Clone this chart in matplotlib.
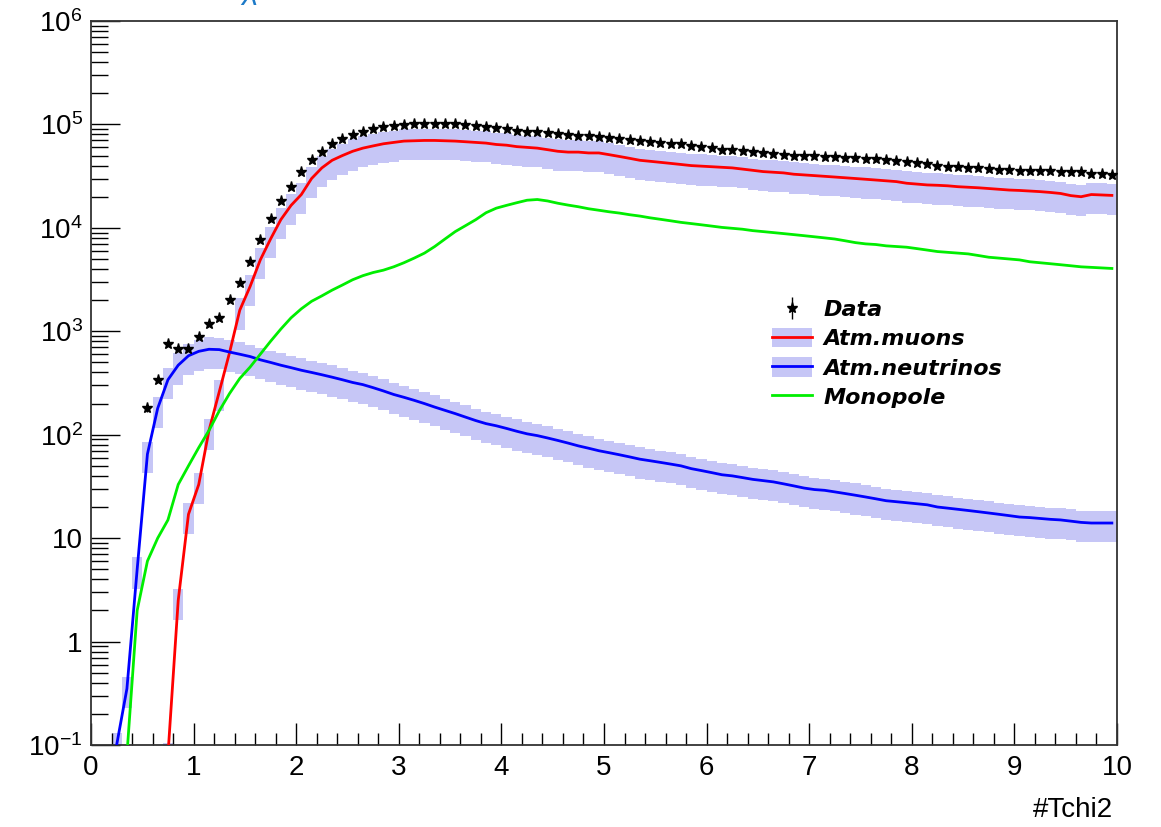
import numpy as np
import matplotlib
matplotlib.use("Agg")
import matplotlib.pyplot as plt
from matplotlib.patches import Patch
from matplotlib.lines import Line2D
from matplotlib.ticker import FixedLocator, FixedFormatter, LogLocator, NullFormatter, MultipleLocator

plt.rcParams['font.family'] = ['Liberation Sans', 'DejaVu Sans']
plt.rcParams['mathtext.fontset'] = 'custom'
plt.rcParams['mathtext.rm'] = 'Liberation Sans'
plt.rcParams['mathtext.it'] = 'Liberation Sans:italic'

nan = np.nan
# 100 bins of width 0.1 on #Tchi2 (0..10)
bin_edges = np.linspace(0, 10, 101)
bin_centers = 0.5 * (bin_edges[:-1] + bin_edges[1:])

data_counts = [
    nan, nan, nan, nan, nan, 180, 340, 750, 680, 680,
    890, 1170, 1340, 2000, 2950, 4700, 7600, 12200, 18200, 25000,
    34500, 45300, 54000, 64500, 72000, 79000, 85000, 91000, 94000, 96500,
    98000, 100000, 100000, 101000, 101000, 100000, 99000, 97000, 95000, 92000,
    90000, 87000, 85000, 84000, 83000, 81000, 79000, 78000, 77000, 76000,
    74000, 72000, 71000, 69000, 68000, 66000, 65000, 64000, 62000, 60000,
    59000, 57000, 56000, 55000, 54000, 53000, 52000, 51000, 50000, 49500,
    49000, 48500, 48000, 47500, 47000, 46500, 46000, 45000, 44000, 43000,
    42000, 41000, 40000, 39000, 38500, 38000, 37500, 37000, 36500, 36000,
    35800, 35600, 35400, 35200, 35000, 34800, 34700, 33500, 33000, 32400,
]

atm_muons = [
    nan, nan, nan, nan, nan, nan, nan, 0.08, 2.5, 17,
    33, 110, 260, 620, 1600, 2700, 4900, 7800, 12000, 16500,
    21000, 30000, 38000, 45000, 50000, 55000, 59000, 62000, 65000, 67000,
    69000, 69500, 70000, 70000, 69500, 69000, 68000, 67000, 66000, 64000,
    63000, 61000, 60000, 59000, 57000, 55000, 54000, 54000, 53000, 53000,
    51000, 49000, 47000, 45000, 44000, 43000, 42000, 41000, 40000, 39500,
    39000, 38500, 38000, 37000, 36000, 35000, 34500, 34000, 33000, 32500,
    32000, 31500, 31000, 30500, 30000, 29500, 29000, 28500, 28000, 27000,
    26500, 26000, 25800, 25500, 25000, 24700, 24400, 24000, 23600, 23200,
    23000, 22700, 22400, 22000, 21500, 20500, 20000, 21000, 20800, 20600,
]

atm_neutrinos = [
    nan, nan, 0.1, 0.35, 5, 65, 180, 340, 470, 580,
    640, 670, 665, 630, 600, 570, 530, 500, 470, 445,
    420, 400, 380, 360, 340, 320, 305, 285, 265, 245,
    230, 215, 200, 185, 172, 160, 148, 137, 128, 122,
    115, 108, 102, 98, 93, 88, 83, 78, 74, 70,
    67, 64, 61, 58, 56, 54, 52, 50, 47, 45,
    43, 41, 40, 38.5, 37, 36, 35, 33.5, 32, 30.5,
    29.5, 29, 28, 27, 26, 25, 24, 23, 22.5, 22,
    21.5, 21, 20, 19.5, 19, 18.5, 18, 17.5, 17, 16.5,
    16, 15.8, 15.5, 15.2, 15, 14.6, 14.2, 14, 14, 14,
]

monopole = [
    nan, nan, nan, 0.08, 2.0, 6, 10, 15, 33, 50,
    75, 110, 170, 250, 350, 450, 600, 800, 1050, 1350,
    1650, 1950, 2200, 2500, 2800, 3150, 3450, 3700, 3900, 4200,
    4600, 5100, 5700, 6600, 7800, 9200, 10500, 12000, 14000, 15500,
    16500, 17500, 18500, 18800, 18200, 17300, 16600, 16000, 15300, 14800,
    14300, 13900, 13400, 13000, 12500, 12100, 11700, 11300, 11000, 10700,
    10400, 10100, 9900, 9700, 9400, 9200, 9000, 8800, 8600, 8400,
    8200, 8000, 7800, 7500, 7200, 7000, 6900, 6700, 6600, 6500,
    6300, 6100, 5900, 5800, 5700, 5600, 5400, 5200, 5100, 5000,
    4900, 4700, 4600, 4500, 4400, 4300, 4200, 4150, 4100, 4050,
]

# relative systematic uncertainty of the MC bands
sys_up = 0.30
sys_down = 0.35

ytick_vals = [0.1, 1, 10, 100, 1e3, 1e4, 1e5, 1e6]
ytick_labels = ['$10^{-1}$', '1', '10', '$10^{2}$', '$10^{3}$', '$10^{4}$', '$10^{5}$', '$10^{6}$']
legend_labels = ['Data', 'Atm.muons', 'Atm.neutrinos', 'Monopole']

band_color = '#c6c6f6'

fig = plt.figure(figsize=(11.61, 8.27), dpi=100)
ax = fig.add_axes([91/1161, 1 - 745/827, (1117-91)/1161, (745-21)/827])


def band(vals):
    v = np.array(vals, dtype=float)
    lo = v * (1 - sys_down)
    hi = v * (1 + sys_up)
    lo = np.append(lo, lo[-1])
    hi = np.append(hi, hi[-1])
    ax.fill_between(bin_edges, lo, hi, step='post', color=band_color, lw=0, zorder=1)


band(atm_muons)
band(atm_neutrinos)

ax.plot(bin_centers, atm_muons, color='red', lw=2, zorder=3)
ax.plot(bin_centers, atm_neutrinos, color='blue', lw=2, zorder=3)
ax.plot(bin_centers, monopole, color='#00ee00', lw=2, zorder=3)

d = np.array(data_counts, dtype=float)
eb = ax.errorbar(bin_centers, d, yerr=np.sqrt(d), fmt='*', color='black',
                 ms=8, elinewidth=1, capsize=0, zorder=4)

ax.set_yscale('log')
ax.set_xlim(0, 10)
ax.set_ylim(0.1, 1e6)

ax.yaxis.set_major_locator(FixedLocator(ytick_vals))
ax.yaxis.set_major_formatter(FixedFormatter(ytick_labels))
ax.yaxis.set_minor_locator(LogLocator(base=10, subs=np.arange(2, 10), numticks=20))
ax.yaxis.set_minor_formatter(NullFormatter())
ax.xaxis.set_major_locator(MultipleLocator(1))
ax.xaxis.set_minor_locator(MultipleLocator(0.2))

ax.tick_params(axis='y', which='major', direction='in', length=21, width=1,
               labelsize=20, pad=6, right=False)
ax.tick_params(axis='y', which='minor', direction='in', length=12, width=1, right=False)
ax.tick_params(axis='x', which='major', direction='in', length=16, width=1,
               labelsize=20, pad=7, top=False)
ax.tick_params(axis='x', which='minor', direction='in', length=8.5, width=1, top=False)

for s in ax.spines.values():
    s.set_color('#333333')
    s.set_linewidth(1.3)

# legend
h_data = eb
h_mu = (Patch(facecolor=band_color, edgecolor='none'), Line2D([], [], color='red', lw=2))
h_nu = (Patch(facecolor=band_color, edgecolor='none'), Line2D([], [], color='blue', lw=2))
h_mono = Line2D([], [], color='#00ee00', lw=2)
ax.legend([h_data, h_mu, h_nu, h_mono], legend_labels,
          loc='upper left', bbox_to_anchor=(772/1161, 1 - 299/827),
          bbox_transform=fig.transFigure, frameon=False,
          prop={'family': 'DejaVu Sans', 'weight': 'bold', 'style': 'italic', 'size': 16},
          handlelength=1.8, handleheight=0.95, handletextpad=0.5,
          labelspacing=0.36, borderpad=0, borderaxespad=0)

fig.text(1113/1161, 1 - 810/827, '#Tchi2', fontsize=20, ha='right', va='center')
fig.text(240/1161, 1 + 2/827, r'$\chi$', fontsize=22, color='#1d7ac8', ha='left', va='baseline')

fig.savefig('out.png', dpi=100)
